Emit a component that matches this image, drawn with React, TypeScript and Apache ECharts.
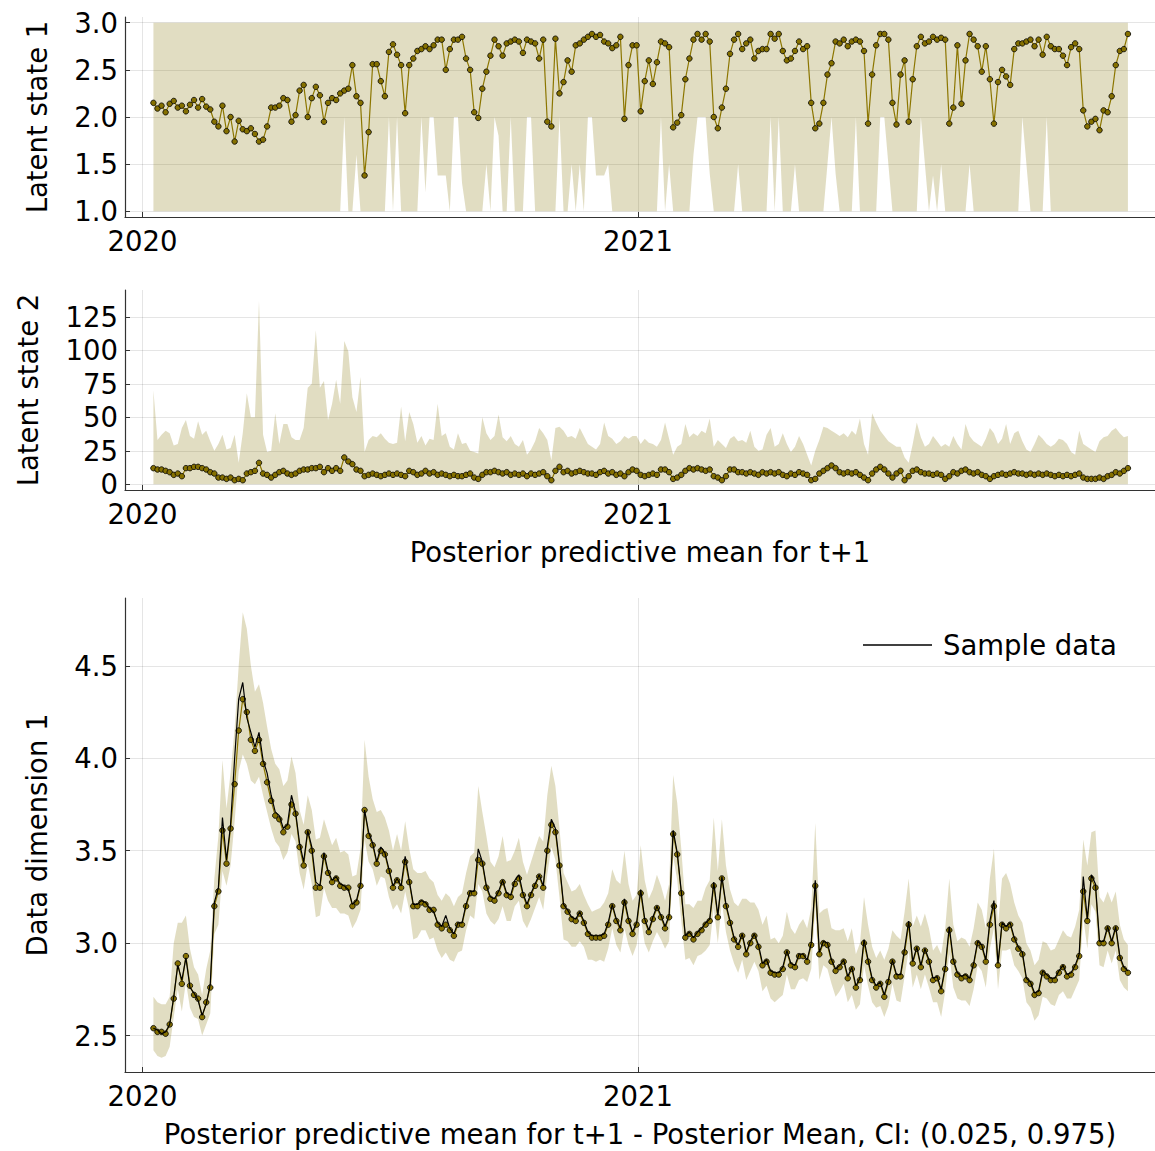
import React, { useEffect, useRef } from "react";
import * as echarts from "echarts";

// ---- sampling of the time axis (days after 2020-01-01) ----
const FIRST_DAY = 8;
const STEP_DAYS = 3;
const X_TICK_DAYS = [0, 366];
const X_TICK_LABELS = ["2020", "2021"];
const X_MIN = -13;
const X_MAX = 748;

// ---- panel 1 : latent state 1 ----
const Y1_TICKS = [1.0, 1.5, 2.0, 2.5, 3.0];
const STATE1_UPPER = 3.0;
const state1Mean = [
  2.15, 2.09, 2.12, 2.05, 2.14, 2.17, 2.10, 2.12, 2.06, 2.13,
  2.18, 2.10, 2.19, 2.11, 2.08, 1.95, 1.90, 2.12, 1.85, 2.00,
  1.74, 1.96, 1.87, 1.85, 1.88, 1.82, 1.74, 1.76, 1.90, 2.10,
  2.10, 2.12, 2.20, 2.18, 1.95, 2.02, 2.28, 2.34, 2.00, 2.20,
  2.32, 2.23, 1.95, 2.15, 2.20, 2.18, 2.25, 2.28, 2.30, 2.55,
  2.22, 2.15, 1.38, 1.84, 2.56, 2.56, 2.38, 2.22, 2.69, 2.77,
  2.66, 2.55, 2.04, 2.55, 2.62, 2.70, 2.72, 2.75, 2.72, 2.76,
  2.82, 2.82, 2.50, 2.72, 2.82, 2.82, 2.85, 2.62, 2.50, 2.05,
  1.99, 2.30, 2.48, 2.65, 2.82, 2.75, 2.65, 2.78, 2.80, 2.82,
  2.80, 2.68, 2.82, 2.80, 2.78, 2.62, 2.82, 1.95, 1.90, 2.83,
  2.25, 2.37, 2.60, 2.48, 2.76, 2.78, 2.82, 2.85, 2.88, 2.85,
  2.87, 2.80, 2.78, 2.73, 2.76, 2.85, 1.98, 2.55, 2.76, 2.76,
  2.06, 2.38, 2.60, 2.35, 2.58, 2.80, 2.78, 2.74, 1.89, 1.94,
  2.02, 2.40, 2.62, 2.82, 2.88, 2.82, 2.88, 2.80, 2.00, 1.88,
  2.10, 2.30, 2.67, 2.82, 2.88, 2.72, 2.78, 2.82, 2.62, 2.70,
  2.72, 2.72, 2.88, 2.83, 2.88, 2.70, 2.60, 2.62, 2.70, 2.80,
  2.72, 2.75, 2.15, 1.88, 1.93, 2.15, 2.45, 2.57, 2.80, 2.78,
  2.82, 2.75, 2.80, 2.82, 2.80, 2.70, 1.93, 2.45, 2.76, 2.88,
  2.88, 2.82, 2.15, 1.92, 2.45, 2.60, 1.95, 2.40, 2.75, 2.85,
  2.78, 2.80, 2.85, 2.82, 2.84, 2.82, 1.93, 2.10, 2.76, 2.14,
  2.60, 2.88, 2.82, 2.75, 2.48, 2.75, 2.40, 1.93, 2.37, 2.50,
  2.43, 2.34, 2.72, 2.78, 2.78, 2.80, 2.82, 2.75, 2.82, 2.66,
  2.85, 2.75, 2.72, 2.72, 2.65, 2.55, 2.74, 2.78, 2.72, 2.07,
  1.90, 1.95, 1.98, 1.86, 2.07, 2.05, 2.22, 2.55, 2.70, 2.72,
  2.88,
];
const state1Lower = [
  1, 1, 1, 1, 1, 1, 1, 1, 1, 1,
  1, 1, 1, 1, 1, 1, 1, 1, 1, 1,
  1, 1, 1, 1, 1, 1, 1, 1, 1, 1,
  1, 1, 1, 1, 1, 1, 1, 1, 1, 1,
  1, 1, 1, 1, 1, 1, 1, 2.0, 1, 1,
  1.6, 1, 1, 1, 1, 1, 1, 1, 2.0, 1,
  2.0, 1, 1, 1, 1, 1, 2.0, 1.2, 2.0, 2.0,
  1.38, 1.38, 1.38, 1, 2.0, 2.0, 1.3, 1, 1, 1,
  1, 1, 1.5, 1, 2.0, 1.8, 1, 1, 2.0, 1,
  1, 1, 2.0, 2.0, 1, 1, 1, 1, 1, 1,
  2.0, 1, 1, 1.5, 1, 1.5, 1, 2.0, 2.0, 1.38,
  1.38, 1.38, 1.5, 1, 1, 1, 1, 1, 1, 1,
  1, 1, 1, 1, 1, 2.0, 1, 1.5, 1, 1,
  1, 1, 1, 1.6, 2.0, 2.0, 2.0, 1.4, 1, 1,
  1, 1, 1, 1, 1.5, 1, 1, 1, 1, 1,
  1, 1, 2.0, 1, 2.0, 1, 1, 1, 1.5, 1,
  1, 1, 1, 1, 1, 1, 1.5, 2.0, 1.4, 1,
  1, 1, 1, 2.0, 1, 1, 1, 1, 1, 2.0,
  2.0, 1.5, 1, 1, 1, 1, 1, 1, 1, 2.0,
  1.5, 1, 1.38, 1, 1.5, 1, 1, 1, 1, 1,
  1, 1.5, 1, 1, 1, 1, 1, 1, 1, 1,
  1, 1, 1, 1, 2.0, 1.5, 1, 1, 1, 1,
  2.0, 1, 1, 1, 1, 1, 1, 1, 1, 1,
  1, 1, 1, 1, 1, 1, 1, 1, 1, 1,
  1,
];

// ---- panel 2 : latent state 2 ----
const Y2_TICKS = [0, 25, 50, 75, 100, 125];
const STATE2_LOWER = 0;
const state2Mean = [
  12, 11, 11, 10, 9, 7, 8, 6, 12, 12,
  13, 13, 12, 11, 9, 8, 5, 5, 4, 5,
  3, 4, 3, 8, 9, 10, 16, 8, 7, 5,
  7, 9, 10, 8, 7, 8, 10, 11, 11, 12,
  12, 13, 9, 12, 10, 12, 10, 20, 17, 15,
  11, 10, 6, 7, 8, 7, 6, 7, 8, 7,
  8, 7, 6, 10, 9, 7, 8, 10, 8, 9,
  7, 8, 7, 6, 7, 6, 6, 7, 8, 5,
  4, 7, 9, 9, 10, 9, 8, 9, 7, 8,
  7, 8, 6, 8, 7, 8, 9, 6, 3, 10,
  13, 9, 10, 8, 9, 10, 9, 8, 8, 7,
  9, 10, 8, 9, 7, 8, 6, 9, 11, 10,
  7, 6, 7, 8, 7, 11, 11, 9, 4, 5,
  7, 10, 12, 11, 12, 11, 10, 11, 6, 5,
  3, 6, 11, 11, 9, 9, 8, 9, 8, 7,
  9, 8, 9, 8, 9, 7, 6, 8, 7, 9,
  8, 7, 3, 4, 8, 10, 12, 14, 12, 9,
  8, 9, 8, 9, 7, 5, 3, 8, 11, 13,
  11, 8, 5, 8, 10, 3, 6, 10, 11, 9,
  8, 8, 7, 8, 7, 4, 6, 9, 8, 10,
  11, 9, 8, 9, 7, 6, 4, 6, 7, 8,
  7, 8, 9, 8, 8, 7, 8, 7, 8, 7,
  8, 7, 6, 7, 6, 7, 6, 7, 8, 5,
  4, 4, 4, 5, 4, 6, 7, 9, 8, 10,
  12,
];
const state2Upper = [
  70, 33, 37, 40, 38, 29, 30, 42, 48, 36,
  34, 47, 37, 40, 32, 25, 30, 37, 26, 27,
  37, 16, 38, 68, 50, 50, 137, 37, 24, 25,
  53, 30, 45, 45, 35, 33, 33, 42, 72, 75,
  115, 72, 77, 48, 60, 78, 60, 107, 99, 65,
  54, 80, 24, 33, 36, 35, 38, 34, 31, 30,
  31, 58, 32, 54, 45, 31, 36, 29, 34, 33,
  60, 36, 38, 28, 26, 38, 30, 31, 25, 24,
  23, 50, 38, 33, 36, 52, 35, 32, 36, 30,
  28, 33, 22, 26, 32, 42, 38, 33, 18, 42,
  43, 40, 35, 36, 34, 42, 36, 30, 28, 26,
  30, 46, 36, 34, 30, 32, 36, 34, 36, 36,
  30, 34, 31, 30, 28, 33, 46, 34, 22, 28,
  30, 45, 35, 38, 36, 40, 38, 49, 28, 33,
  30, 27, 34, 36, 32, 33, 31, 40, 28, 25,
  26, 37, 42, 28, 30, 38, 30, 24, 28, 36,
  30, 22, 14, 25, 33, 43, 42, 40, 38, 36,
  38, 35, 40, 37, 49, 30, 22, 53, 46, 40,
  36, 32, 30, 28, 28, 20, 16, 30, 46, 35,
  28, 30, 36, 32, 28, 30, 28, 36, 30, 26,
  45, 36, 32, 30, 28, 34, 42, 38, 30, 34,
  45, 30, 38, 40, 32, 26, 24, 30, 37, 34,
  30, 28, 30, 34, 33, 30, 24, 22, 40, 30,
  28, 26, 24, 32, 35, 36, 40, 42, 38, 35,
  36,
];

// ---- panel 3 : data dimension 1 ----
const Y3_TICKS = [2.5, 3.0, 3.5, 4.0, 4.5];
const obsMean = [
  2.54, 2.52, 2.52, 2.51, 2.56, 2.70, 2.89, 2.78, 2.93, 2.77,
  2.72, 2.70, 2.60, 2.68, 2.76, 3.20, 3.28, 3.61, 3.43, 3.62,
  3.86, 4.15, 4.32, 4.25, 4.10, 4.04, 4.10, 3.97, 3.87, 3.77,
  3.69, 3.67, 3.60, 3.63, 3.75, 3.70, 3.52, 3.42, 3.60, 3.50,
  3.30, 3.30, 3.47, 3.38, 3.33, 3.35, 3.31, 3.30, 3.30, 3.20,
  3.22, 3.31, 3.72, 3.58, 3.53, 3.43, 3.50, 3.48, 3.39, 3.30,
  3.34, 3.30, 3.44, 3.33, 3.20, 3.20, 3.22, 3.21, 3.18, 3.18,
  3.10, 3.08, 3.10, 3.07, 3.04, 3.10, 3.10, 3.20, 3.27, 3.27,
  3.45, 3.43, 3.30, 3.24, 3.23, 3.27, 3.33, 3.26, 3.25, 3.32,
  3.35, 3.26, 3.20, 3.26, 3.31, 3.36, 3.30, 3.50, 3.64, 3.60,
  3.42, 3.20, 3.17, 3.13, 3.12, 3.16, 3.11, 3.05, 3.03, 3.03,
  3.03, 3.04, 3.10, 3.20, 3.12, 3.07, 3.22, 3.12, 3.05, 3.10,
  3.27, 3.12, 3.06, 3.13, 3.19, 3.14, 3.08, 3.14, 3.59, 3.48,
  3.27, 3.03, 3.05, 3.02, 3.05, 3.07, 3.10, 3.12, 3.31, 3.14,
  3.35, 3.20, 3.11, 3.02, 2.98, 3.04, 2.94, 3.00, 3.04, 2.98,
  2.88, 2.90, 2.84, 2.83, 2.83, 2.86, 2.95, 2.88, 2.87, 2.93,
  2.93, 2.90, 2.99, 3.31, 2.94, 3.00, 2.99, 2.90, 2.85, 2.87,
  2.90, 2.81, 2.86, 2.76, 2.80, 3.00, 2.90, 2.80, 2.76, 2.78,
  2.71, 2.79, 2.90, 2.82, 2.82, 2.95, 3.10, 2.89, 2.97, 2.87,
  2.96, 2.90, 2.80, 2.81, 2.74, 2.86, 3.07, 2.90, 2.83, 2.81,
  2.82, 2.80, 2.88, 3.00, 2.98, 2.90, 3.10, 3.20, 2.88, 3.10,
  3.08, 3.10, 3.02, 2.97, 2.94, 2.80, 2.78, 2.72, 2.73, 2.84,
  2.82, 2.80, 2.80, 2.84, 2.87, 2.82, 2.83, 2.87, 2.93, 3.28,
  3.12, 3.35, 3.30, 3.00, 3.00, 3.08, 3.00, 3.08, 2.92, 2.86,
  2.84,
];
const obsSample = [
  2.54, 2.53, 2.51, 2.52, 2.56, 2.71, 2.88, 2.80, 2.92, 2.76,
  2.73, 2.69, 2.61, 2.67, 2.78, 3.22, 3.30, 3.68, 3.45, 3.64,
  4.00, 4.32, 4.41, 4.22, 4.14, 4.06, 4.14, 3.99, 3.92, 3.80,
  3.71, 3.69, 3.62, 3.64, 3.80, 3.71, 3.54, 3.44, 3.61, 3.52,
  3.33, 3.31, 3.49, 3.39, 3.34, 3.36, 3.32, 3.31, 3.29, 3.21,
  3.23, 3.32, 3.72, 3.60, 3.54, 3.44, 3.52, 3.49, 3.40, 3.31,
  3.35, 3.31, 3.47, 3.34, 3.21, 3.21, 3.23, 3.22, 3.19, 3.17,
  3.11, 3.09, 3.15, 3.08, 3.05, 3.11, 3.11, 3.21, 3.28, 3.28,
  3.51, 3.44, 3.31, 3.25, 3.24, 3.28, 3.34, 3.27, 3.26, 3.34,
  3.37, 3.27, 3.21, 3.27, 3.32, 3.37, 3.31, 3.52, 3.67, 3.62,
  3.43, 3.21, 3.18, 3.14, 3.13, 3.17, 3.12, 3.06, 3.04, 3.04,
  3.04, 3.05, 3.11, 3.21, 3.13, 3.08, 3.24, 3.13, 3.06, 3.11,
  3.29, 3.13, 3.07, 3.14, 3.20, 3.15, 3.09, 3.15, 3.61, 3.49,
  3.28, 3.04, 3.06, 3.03, 3.06, 3.08, 3.11, 3.13, 3.33, 3.15,
  3.36, 3.21, 3.12, 3.03, 2.99, 3.05, 2.95, 3.01, 3.05, 2.99,
  2.89, 2.91, 2.85, 2.84, 2.84, 2.87, 2.96, 2.89, 2.88, 2.94,
  2.94, 2.91, 3.00, 3.34, 2.95, 3.01, 3.00, 2.91, 2.86, 2.88,
  2.91, 2.82, 2.87, 2.77, 2.81, 3.02, 2.91, 2.81, 2.77, 2.79,
  2.72, 2.80, 2.91, 2.83, 2.83, 2.97, 3.12, 2.90, 2.98, 2.88,
  2.97, 2.91, 2.81, 2.82, 2.75, 2.87, 3.09, 2.91, 2.84, 2.82,
  2.83, 2.81, 2.89, 3.01, 2.99, 2.91, 3.12, 3.23, 2.89, 3.11,
  3.09, 3.11, 3.03, 2.98, 2.95, 2.81, 2.79, 2.73, 2.74, 2.85,
  2.83, 2.81, 2.81, 2.85, 2.88, 2.83, 2.84, 2.88, 2.94, 3.36,
  3.13, 3.37, 3.32, 3.01, 3.01, 3.09, 3.01, 3.09, 2.93, 2.87,
  2.85,
];
// distance of the CI band above / below the posterior mean
const obsBandAbove = [
  0.17, 0.16, 0.15, 0.16, 0.15, 0.30, 0.22, 0.33, 0.22, 0.20,
  0.15, 0.13, 0.12, 0.18, 0.20, 0.15, 0.30, 0.38, 0.30, 0.30,
  0.30, 0.35, 0.47, 0.45, 0.40, 0.32, 0.30, 0.33, 0.30, 0.28,
  0.28, 0.27, 0.25, 0.25, 0.26, 0.22, 0.20, 0.22, 0.20, 0.22,
  0.26, 0.27, 0.20, 0.22, 0.20, 0.22, 0.18, 0.20, 0.18, 0.16,
  0.15, 0.20, 0.38, 0.32, 0.25, 0.28, 0.22, 0.20, 0.22, 0.20,
  0.25, 0.20, 0.22, 0.18, 0.20, 0.18, 0.16, 0.18, 0.17, 0.15,
  0.16, 0.15, 0.17, 0.18, 0.16, 0.15, 0.17, 0.18, 0.20, 0.22,
  0.40, 0.28, 0.28, 0.20, 0.18, 0.20, 0.25, 0.18, 0.20, 0.18,
  0.22, 0.18, 0.17, 0.18, 0.20, 0.22, 0.25, 0.30, 0.32, 0.25,
  0.20, 0.18, 0.16, 0.15, 0.17, 0.16, 0.15, 0.16, 0.14, 0.15,
  0.16, 0.18, 0.17, 0.20, 0.22, 0.25, 0.28, 0.20, 0.18, 0.16,
  0.26, 0.22, 0.18, 0.16, 0.18, 0.17, 0.15, 0.18, 0.32, 0.28,
  0.24, 0.18, 0.16, 0.17, 0.18, 0.16, 0.20, 0.22, 0.37, 0.25,
  0.32, 0.22, 0.18, 0.20, 0.22, 0.20, 0.30, 0.22, 0.18, 0.20,
  0.22, 0.25, 0.18, 0.20, 0.17, 0.18, 0.22, 0.20, 0.18, 0.17,
  0.20, 0.18, 0.20, 0.34, 0.22, 0.18, 0.20, 0.18, 0.22, 0.20,
  0.18, 0.20, 0.22, 0.18, 0.20, 0.25, 0.20, 0.18, 0.16, 0.18,
  0.20, 0.18, 0.17, 0.22, 0.20, 0.22, 0.25, 0.20, 0.18, 0.22,
  0.20, 0.18, 0.16, 0.18, 0.20, 0.22, 0.28, 0.20, 0.18, 0.22,
  0.20, 0.18, 0.20, 0.22, 0.20, 0.18, 0.25, 0.31, 0.22, 0.25,
  0.30, 0.22, 0.20, 0.18, 0.17, 0.20, 0.18, 0.16, 0.18, 0.17,
  0.18, 0.16, 0.17, 0.18, 0.20, 0.22, 0.20, 0.22, 0.25, 0.28,
  0.30, 0.25, 0.31, 0.25, 0.22, 0.20, 0.22, 0.20, 0.18, 0.16,
  0.15,
];
const obsBandBelow = [
  0.12, 0.13, 0.14, 0.12, 0.12, 0.10, 0.14, 0.15, 0.14, 0.12,
  0.12, 0.11, 0.10, 0.12, 0.14, 0.15, 0.18, 0.22, 0.12, 0.20,
  0.20, 0.22, 0.30, 0.28, 0.22, 0.18, 0.20, 0.17, 0.16, 0.15,
  0.14, 0.15, 0.15, 0.14, 0.16, 0.15, 0.14, 0.13, 0.17, 0.18,
  0.16, 0.15, 0.17, 0.15, 0.14, 0.16, 0.15, 0.14, 0.15, 0.12,
  0.10, 0.13, 0.16, 0.14, 0.13, 0.12, 0.14, 0.13, 0.14, 0.12,
  0.13, 0.14, 0.16, 0.15, 0.18, 0.17, 0.15, 0.14, 0.16, 0.15,
  0.14, 0.16, 0.15, 0.16, 0.14, 0.15, 0.14, 0.13, 0.12, 0.14,
  0.13, 0.15, 0.14, 0.12, 0.13, 0.14, 0.13, 0.14, 0.13, 0.12,
  0.12, 0.14, 0.12, 0.13, 0.12, 0.11, 0.12, 0.13, 0.12, 0.15,
  0.17, 0.18, 0.16, 0.15, 0.14, 0.15, 0.13, 0.14, 0.12, 0.13,
  0.12, 0.14, 0.13, 0.12, 0.13, 0.12, 0.14, 0.13, 0.12, 0.11,
  0.13, 0.12, 0.11, 0.12, 0.13, 0.12, 0.11, 0.13, 0.12, 0.14,
  0.15, 0.12, 0.13, 0.14, 0.12, 0.13, 0.14, 0.13, 0.12, 0.14,
  0.13, 0.14, 0.15, 0.13, 0.14, 0.13, 0.14, 0.15, 0.14, 0.13,
  0.14, 0.13, 0.14, 0.15, 0.13, 0.14, 0.12, 0.13, 0.12, 0.13,
  0.12, 0.11, 0.13, 0.12, 0.14, 0.12, 0.13, 0.12, 0.14, 0.13,
  0.12, 0.13, 0.14, 0.12, 0.13, 0.12, 0.13, 0.12, 0.11, 0.12,
  0.11, 0.13, 0.12, 0.13, 0.14, 0.13, 0.14, 0.13, 0.14, 0.12,
  0.13, 0.14, 0.12, 0.13, 0.14, 0.12, 0.13, 0.14, 0.13, 0.12,
  0.13, 0.14, 0.13, 0.12, 0.13, 0.14, 0.13, 0.12, 0.13, 0.14,
  0.12, 0.13, 0.14, 0.12, 0.13, 0.12, 0.13, 0.14, 0.12, 0.13,
  0.12, 0.13, 0.14, 0.12, 0.13, 0.12, 0.13, 0.12, 0.13, 0.14,
  0.15, 0.14, 0.13, 0.12, 0.13, 0.12, 0.11, 0.12, 0.12, 0.10,
  0.10,
];

const FONT = "DejaVu Sans";
const FS = 27.5;
const BAND = "rgba(130,112,0,0.24)";
const DOT = "#857000";
const LINE = "#8c7600";
const AXIS = "#333333";
const GRIDLINE = "rgba(0,0,0,0.1)";

export default function App() {
  const ref = useRef<HTMLDivElement>(null);

  useEffect(() => {
    if (!ref.current) return;
    const chart = echarts.init(ref.current, undefined, { renderer: "svg" });

    const n = Math.min(
      state1Mean.length, state1Lower.length, state2Mean.length, state2Upper.length,
      obsMean.length, obsSample.length, obsBandAbove.length, obsBandBelow.length
    );
    const days: number[] = [];
    for (let i = 0; i < n; i++) days.push(FIRST_DAY + STEP_DAYS * i);
    const pairs = (f: (i: number) => number) => days.map((d, i) => [d, f(i)]);

    const xAxis = (gi: number, name: string) => ({
      type: "value",
      gridIndex: gi,
      min: X_MIN,
      max: X_MAX,
      name,
      nameLocation: "middle",
      nameGap: 48,
      nameTextStyle: { fontSize: FS, color: "#000", fontFamily: FONT },
      axisLine: { show: true, onZero: false, lineStyle: { color: AXIS, width: 1.2 } },
      axisTick: { show: true, inside: true, length: 5, customValues: X_TICK_DAYS, lineStyle: { color: AXIS } },
      axisLabel: {
        customValues: X_TICK_DAYS,
        formatter: (v: number) => {
          const k = X_TICK_DAYS.indexOf(v);
          return k >= 0 ? X_TICK_LABELS[k] : "";
        },
        fontSize: FS,
        color: "#000",
        fontFamily: FONT,
        margin: 10,
      },
      splitLine: { show: true, lineStyle: { color: GRIDLINE, width: 1 } },
    });

    const yAxis = (gi: number, name: string, min: number, max: number, ticks: number[], dec: number, gap: number) => ({
      type: "value",
      gridIndex: gi,
      min,
      max,
      name,
      nameLocation: "middle",
      nameGap: gap,
      nameTextStyle: { fontSize: FS, color: "#000", fontFamily: FONT },
      axisLine: { show: true, onZero: false, lineStyle: { color: AXIS, width: 1.2 } },
      axisTick: { show: true, inside: true, length: 5, customValues: ticks, lineStyle: { color: AXIS } },
      axisLabel: {
        customValues: ticks,
        formatter: (v: number) => v.toFixed(dec),
        fontSize: FS,
        color: "#000",
        fontFamily: FONT,
        margin: 7,
      },
      splitLine: { show: true, lineStyle: { color: GRIDLINE, width: 1 } },
    });

    const dots = {
      symbol: "circle",
      symbolSize: 5.5,
      showSymbol: true,
      itemStyle: { color: DOT, borderColor: "#000", borderWidth: 0.8 },
      lineStyle: { color: LINE, width: 1.2 },
      silent: true,
      z: 2,
    };

    // filled CI band as one polygon, placed through the axes' own scales
    const band = (gi: number, lo: (i: number) => number, hi: (i: number) => number) => ({
      type: "custom",
      xAxisIndex: gi,
      yAxisIndex: gi,
      silent: true,
      z: 1,
      clip: true,
      data: [[days[0], lo(0)]],
      renderItem: (_params: any, api: any) => {
        const top = days.map((d, i) => api.coord([d, hi(i)]));
        const bot = days.map((d, i) => api.coord([d, lo(i)])).reverse();
        return {
          type: "polygon",
          shape: { points: top.concat(bot) },
          style: { fill: BAND, stroke: null },
        };
      },
    });

    const option: any = {
      animation: false,
      textStyle: { fontFamily: FONT },
      grid: [
        { left: 125, right: 0, top: 17, height: 200 },
        { left: 125, right: 0, top: 290, height: 200 },
        { left: 125, right: 0, top: 598, height: 474 },
      ],
      xAxis: [
        xAxis(0, ""),
        xAxis(1, "Posterior predictive mean for t+1"),
        xAxis(2, "Posterior predictive mean for t+1 - Posterior Mean, CI: (0.025, 0.975)"),
      ],
      yAxis: [
        yAxis(0, "Latent state 1", 0.94, 3.06, Y1_TICKS, 1, 74),
        yAxis(1, "Latent state 2", -4.3, 145, Y2_TICKS, 0, 83),
        yAxis(2, "Data dimension 1", 2.303, 4.867, Y3_TICKS, 1, 74),
      ],
      legend: {
        data: [{ name: "Sample data", icon: "rect" }],
        left: 863,
        top: 631,
        padding: 0,
        itemWidth: 69,
        itemHeight: 1.5,
        itemGap: 0,
        textStyle: { fontSize: FS, color: "#000", fontFamily: FONT, padding: [0, 0, 0, 6] },
        selectedMode: false,
      },
      series: [
        band(0, (i) => state1Lower[i], () => STATE1_UPPER),
        { type: "line", xAxisIndex: 0, yAxisIndex: 0, data: pairs((i) => state1Mean[i]), ...dots },

        band(1, () => STATE2_LOWER, (i) => state2Upper[i]),
        { type: "line", xAxisIndex: 1, yAxisIndex: 1, data: pairs((i) => state2Mean[i]), ...dots },

        band(2, (i) => obsMean[i] - obsBandBelow[i], (i) => obsMean[i] + obsBandAbove[i]),
        { type: "line", xAxisIndex: 2, yAxisIndex: 2, data: pairs((i) => obsMean[i]), ...dots },
        {
          type: "line", name: "Sample data", xAxisIndex: 2, yAxisIndex: 2,
          data: pairs((i) => obsSample[i]),
          symbol: "none", color: "#000", lineStyle: { color: "#000", width: 1.2 }, silent: true, z: 3,
        },
      ],
    };

    chart.setOption(option);
    return () => chart.dispose();
  }, []);

  return (
    <div
      ref={ref}
      style={{ position: "fixed", left: 0, top: 0, width: 1155, height: 1151, background: "#fff" }}
    />
  );
}
